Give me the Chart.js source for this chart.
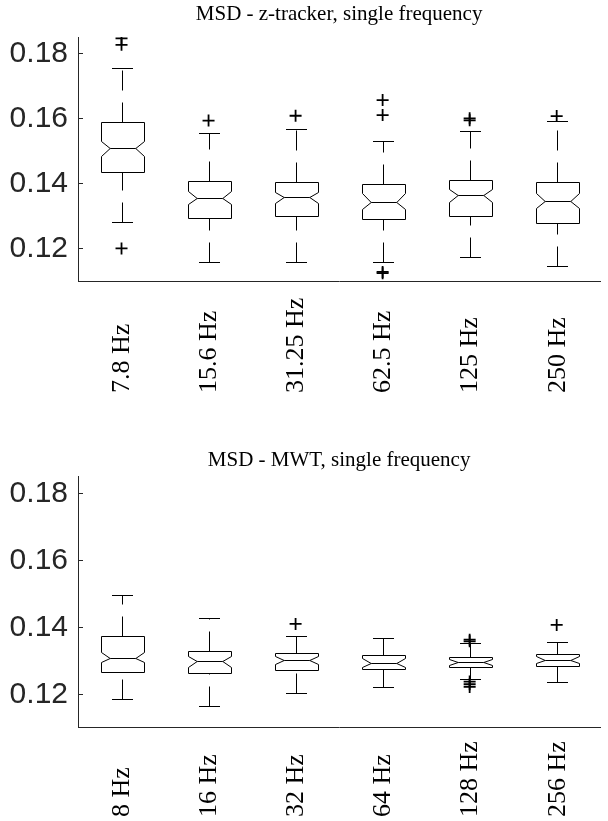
<!DOCTYPE html>
<html>
<head>
<meta charset="utf-8">
<script src="https://cdn.jsdelivr.net/npm/chart.js@4.4.1/dist/chart.umd.min.js"></script>
<style>
html,body{margin:0;padding:0;background:#fff;}
#wrap{position:relative;width:608px;height:821px;overflow:hidden;}
.c{position:absolute;left:0;width:608px;}
</style>
</head>
<body>
<div id="wrap">
  <div class="c" style="top:0;height:410px"><canvas id="cTop"></canvas></div>
  <div class="c" style="top:410px;height:411px"><canvas id="cBot"></canvas></div>
</div>
<script>
// ---------- shared axis ----------
const yMin = 0.11;
const yMax = 0.185;
const yTickValues = [0.12, 0.14, 0.16, 0.18];

// ---------- top panel: z-tracker ----------
const topTitle = 'MSD - z-tracker, single frequency';
const topCategories = ['7.8 Hz', '15.6 Hz', '31.25 Hz', '62.5 Hz', '125 Hz', '250 Hz'];
const topWhiskerLow  = [0.1282, 0.1159, 0.1159, 0.1159, 0.1174, 0.1146];
const topQ1          = [0.1436, 0.1295, 0.1299, 0.1291, 0.1300, 0.1279];
const topNotchLow    = [0.1484, 0.1336, 0.1340, 0.1321, 0.1344, 0.1325];
const topMedian      = [0.1508, 0.1356, 0.1357, 0.1344, 0.1364, 0.1347];
const topNotchHigh   = [0.1531, 0.1376, 0.1374, 0.1369, 0.1382, 0.1369];
const topQ3          = [0.1590, 0.1408, 0.1404, 0.1398, 0.1410, 0.1405];
const topWhiskerHigh = [0.1754, 0.1556, 0.1566, 0.1531, 0.1562, 0.1592];
const topOutliers    = [[0.1846, 0.1826, 0.1200], [0.1593], [0.1608], [0.1656, 0.1610, 0.1128, 0.1124], [0.1600, 0.1594], [0.1607]];

// ---------- bottom panel: MWT ----------
const botTitle = 'MSD - MWT, single frequency';
const botCategories = ['8 Hz', '16 Hz', '32 Hz', '64 Hz', '128 Hz', '256 Hz'];
const botWhiskerLow  = [0.1186, 0.1165, 0.1205, 0.1223, 0.1246, 0.1238];
const botQ1          = [0.1266, 0.1263, 0.1273, 0.1275, 0.1281, 0.1285];
const botNotchLow    = [0.1295, 0.1281, 0.1291, 0.1282, 0.1288, 0.1293];
const botMedian      = [0.1309, 0.1298, 0.1303, 0.1294, 0.1296, 0.1303];
const botNotchHigh   = [0.1327, 0.1314, 0.1314, 0.1308, 0.1305, 0.1313];
const botQ3          = [0.1374, 0.1329, 0.1324, 0.1317, 0.1310, 0.1319];
const botWhiskerHigh = [0.1495, 0.1429, 0.1375, 0.1367, 0.1354, 0.1357];
const botOutliers    = [[], [], [0.1410], [], [0.1363, 0.1358, 0.1238, 0.1230, 0.1222], [0.1407]];

// ---------- drawing plugin (uses chart scales) ----------
const notchBoxPlugin = {
  id: 'notchBoxes',
  beforeDatasetsDraw(chart) {
    const o = chart.options.plugins.notchBoxes;
    const xs = chart.scales.x, ys = chart.scales.y;
    const ctx = chart.ctx;
    const step = xs.getPixelForValue(1) - xs.getPixelForValue(0);
    const bw = step * 0.5, cw = step * 0.25, inset = bw * 0.2;
    const Y = v => Math.round(ys.getPixelForValue(v)) + 0.5;
    ctx.save();
    ctx.strokeStyle = '#000';
    ctx.lineWidth = 1;
    for (let i = 0; i < o.median.length; i++) {
      const cx = Math.round(xs.getPixelForValue(i)) + 0.5;
      const L = Math.round(cx - bw / 2) + 0.5, R = Math.round(cx + bw / 2) + 0.5;
      // whiskers (dashed), drawn from the lower end upward
      ctx.setLineDash([20, 12]);
      ctx.beginPath();
      ctx.moveTo(cx, Y(o.whiskerLow[i])); ctx.lineTo(cx, Y(o.q1[i]));
      ctx.stroke();
      ctx.beginPath();
      ctx.moveTo(cx, Y(o.q3[i])); ctx.lineTo(cx, Y(o.whiskerHigh[i]));
      ctx.stroke();
      ctx.setLineDash([]);
      // caps
      ctx.beginPath();
      ctx.moveTo(Math.round(cx - cw / 2), Y(o.whiskerLow[i])); ctx.lineTo(Math.round(cx + cw / 2), Y(o.whiskerLow[i]));
      ctx.moveTo(Math.round(cx - cw / 2), Y(o.whiskerHigh[i])); ctx.lineTo(Math.round(cx + cw / 2), Y(o.whiskerHigh[i]));
      ctx.stroke();
      // notched box
      ctx.beginPath();
      ctx.moveTo(L, Y(o.q1[i]));
      ctx.lineTo(L, Y(o.notchLow[i]));
      ctx.lineTo(L + inset, Y(o.median[i]));
      ctx.lineTo(L, Y(o.notchHigh[i]));
      ctx.lineTo(L, Y(o.q3[i]));
      ctx.lineTo(R, Y(o.q3[i]));
      ctx.lineTo(R, Y(o.notchHigh[i]));
      ctx.lineTo(R - inset, Y(o.median[i]));
      ctx.lineTo(R, Y(o.notchLow[i]));
      ctx.lineTo(R, Y(o.q1[i]));
      ctx.closePath();
      ctx.stroke();
      // median
      ctx.beginPath();
      ctx.moveTo(L + inset, Y(o.median[i])); ctx.lineTo(R - inset, Y(o.median[i]));
      ctx.stroke();
    }
    // inward y ticks
    ctx.strokeStyle = '#262626';
    ctx.beginPath();
    const left = chart.chartArea.left;
    for (const v of o.yTicks) {
      ctx.moveTo(left, Y(v)); ctx.lineTo(left + 5, Y(v));
    }
    ctx.stroke();
    ctx.restore();
  },
  afterDraw(chart) {
    const o = chart.options.plugins.notchBoxes;
    const xs = chart.scales.x;
    const ctx = chart.ctx;
    ctx.save();
    ctx.fillStyle = '#000';
    ctx.font = '26px "Liberation Serif", "Times New Roman", serif';
    ctx.textAlign = 'left';
    ctx.textBaseline = 'middle';
    xs.ticks.forEach((t, i) => {
      const x = xs.getPixelForTick(i);
      ctx.save();
      ctx.translate(x + 1, o.labelStartY);
      ctx.rotate(-Math.PI / 2);
      ctx.fillText(xs.getLabelForValue(i), 0, 0);
      ctx.restore();
    });
    ctx.restore();
  }
};

function makeChart(id, title, cats, st, outliers, lay) {
  const pts = [];
  outliers.forEach((arr, i) => arr.forEach(v => pts.push({ x: cats[i], y: v })));
  return new Chart(document.getElementById(id), {
    type: 'scatter',
    data: {
      labels: cats,
      datasets: [{
        data: pts,
        pointStyle: 'cross',
        pointRadius: 6,
        pointBorderWidth: 1.8,
        borderColor: '#000',
        backgroundColor: '#000'
      }]
    },
    options: {
      responsive: true,
      maintainAspectRatio: false,
      animation: false,
      events: [],
      layout: { padding: { top: lay.padTop, right: 1, left: 0, bottom: 0 } },
      plugins: {
        legend: { display: false },
        tooltip: { enabled: false },
        title: {
          display: true,
          text: title,
          fullSize: false,
          color: '#000',
          font: { family: '"Liberation Serif", "Times New Roman", serif', size: 21, weight: 'normal', lineHeight: 1.1 },
          padding: { top: lay.titleTop, bottom: lay.titleBottom }
        },
        notchBoxes: Object.assign({ yTicks: yTickValues, labelStartY: lay.labelStartY }, st)
      },
      scales: {
        x: {
          type: 'category',
          labels: cats,
          offset: true,
          grid: { display: false, drawTicks: false },
          border: { display: true, color: '#262626', width: 1 },
          ticks: { display: false },
          afterFit: s => { s.height = lay.xHeight; }
        },
        y: {
          type: 'linear',
          min: yMin,
          max: yMax,
          grid: { display: false, drawTicks: false },
          border: { display: true, color: '#262626', width: 1 },
          ticks: {
            color: '#262626',
            padding: 10,
            font: { family: '"Liberation Sans", Arial, sans-serif', size: 30 },
            callback: v => Number(v).toFixed(2)
          },
          afterBuildTicks: s => { s.ticks = yTickValues.map(v => ({ value: v })); },
          afterFit: s => { s.width = 78; }
        }
      }
    },
    plugins: [notchBoxPlugin]
  });
}

makeChart('cTop', topTitle, topCategories, {
  whiskerLow: topWhiskerLow, q1: topQ1, notchLow: topNotchLow, median: topMedian,
  notchHigh: topNotchHigh, q3: topQ3, whiskerHigh: topWhiskerHigh
}, topOutliers, { padTop: 0, titleTop: 2.45, titleBottom: 11.45, xHeight: 129, labelStartY: 393 });

makeChart('cBot', botTitle, botCategories, {
  whiskerLow: botWhiskerLow, q1: botQ1, notchLow: botNotchLow, median: botMedian,
  notchHigh: botNotchHigh, q3: botQ3, whiskerHigh: botWhiskerHigh
}, botOutliers, { padTop: 38.45, titleTop: 0, titleBottom: 4.95, xHeight: 93.2, labelStartY: 407 });
</script>
</body>
</html>
